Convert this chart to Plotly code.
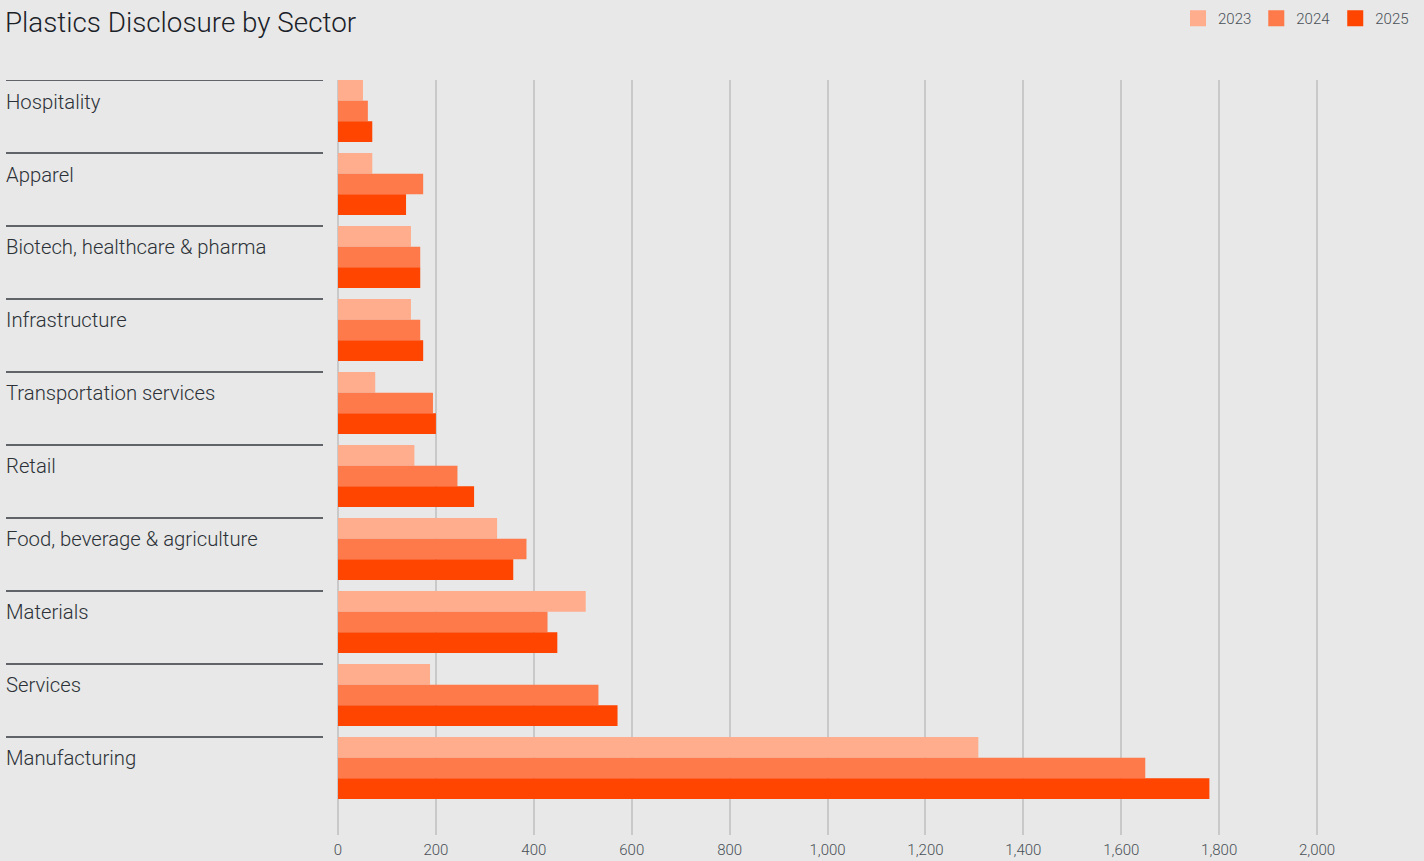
import plotly.graph_objects as go

# Sectors, top to bottom
sectors = [
    "Hospitality",
    "Apparel",
    "Biotech, healthcare & pharma",
    "Infrastructure",
    "Transportation services",
    "Retail",
    "Food, beverage & agriculture",
    "Materials",
    "Services",
    "Manufacturing",
]

years = ["2023", "2024", "2025"]

values_2023 = [51, 70, 149, 149, 76, 156, 325, 506, 188, 1308]
values_2024 = [61, 174, 168, 168, 194, 244, 385, 428, 532, 1649]
values_2025 = [70, 139, 168, 174, 200, 278, 358, 448, 571, 1780]

x_ticks = [0, 200, 400, 600, 800, 1000, 1200, 1400, 1600, 1800, 2000]

colors = {"2023": "#FFAD8C", "2024": "#FF7A4A", "2025": "#FF4500"}
series = {"2023": values_2023, "2024": values_2024, "2025": values_2025}

BG = "#E7E8E7"
W, H = 1424, 861
PLOT_L, PLOT_R = 338, 1415
LABEL_X = 5
LINE_END = 323
FONT = "Roboto"

fig = go.Figure()
for yr in years:
    fig.add_trace(go.Bar(
        name=yr,
        y=sectors,
        x=series[yr],
        orientation="h",
        legendgroup=yr,
        showlegend=False,
        marker=dict(color=colors[yr], line=dict(width=0)),
        hovertemplate="%{y}<br>" + yr + ": %{x:,}<extra></extra>",
    ))

# Legend entries with large square swatches
for yr in years:
    fig.add_trace(go.Scatter(
        name=yr, x=[None], y=[None], mode="markers",
        legendgroup=yr, showlegend=True,
        marker=dict(symbol="square", size=16, color=colors[yr]),
        hoverinfo="skip",
    ))

plot_w = PLOT_R - PLOT_L
x_paper = lambda px: (px - PLOT_L) / plot_w

# Top offset of each group within its category band
top_off = 0.5 - 0.15 / 2

shapes = []
annotations = []
for i, name in enumerate(sectors):
    y_top = i - top_off
    shapes.append(dict(
        type="line", xref="paper", yref="y",
        x0=x_paper(6), x1=x_paper(LINE_END), y0=y_top, y1=y_top,
        line=dict(color="#33383E", width=1.5),
    ))
    annotations.append(dict(
        xref="paper", yref="y", x=x_paper(LABEL_X), y=y_top,
        xanchor="left", yanchor="top", yshift=-8.5, borderpad=0,
        text=name, showarrow=False,
        font=dict(family=FONT, size=20.3, weight=300, color="#2C3137"),
    ))

fig.update_layout(
    width=W, height=H,
    paper_bgcolor=BG, plot_bgcolor=BG,
    margin=dict(l=PLOT_L, r=W - PLOT_R, t=80, b=26, autoexpand=False),
    barmode="group", bargap=0.15, bargroupgap=0,
    font=dict(family=FONT, color="#555B61"),
    title=dict(
        text="Plastics Disclosure by Sector",
        xref="container", yref="container",
        x=5 / W, y=1 - 22 / H, xanchor="left", yanchor="middle",
        font=dict(family=FONT, size=27.8, weight=300, color="#1B2128"),
    ),
    legend=dict(
        orientation="h", traceorder="normal",
        xref="container", yref="container",
        x=1 - 10 / W, y=1 - 2 / H, xanchor="right", yanchor="top",
        font=dict(family=FONT, size=15, weight=300, color="#4A5057"),
        bgcolor="rgba(0,0,0,0)", itemwidth=30, tracegroupgap=0,
    ),
    xaxis=dict(
        range=[0, 2200], tickvals=x_ticks, tickformat=",",
        showgrid=True, gridcolor="#C9C9C9", gridwidth=1.5,
        zeroline=True, zerolinecolor="#C9C9C9", zerolinewidth=1.5,
        showline=False, ticks="", automargin=False, ticklabelstandoff=4,
        tickfont=dict(family=FONT, size=15, weight=300, color="#4A5057"),
    ),
    yaxis=dict(
        type="category", categoryorder="array", categoryarray=sectors,
        range=[9.918, -0.425],
        showticklabels=False, showgrid=False, zeroline=False, ticks="",
        automargin=False,
    ),
    shapes=shapes,
    annotations=annotations,
)

fig.write_html("out.html")
